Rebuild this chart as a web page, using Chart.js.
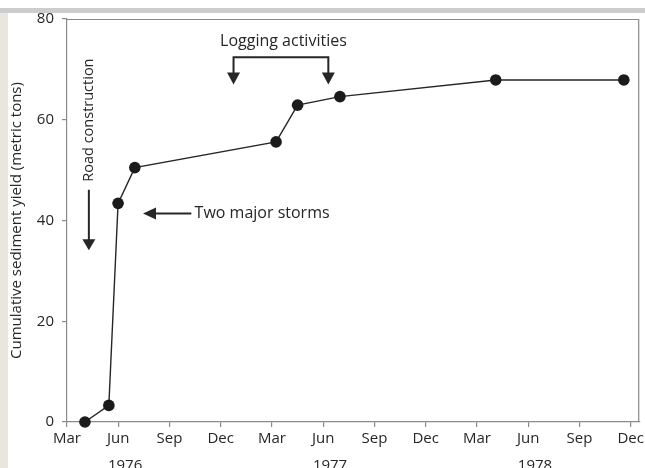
<!DOCTYPE html>
<html>
<head>
<meta charset="utf-8">
<title>Cumulative sediment yield</title>
<script src="https://cdn.jsdelivr.net/npm/chart.js@4.4.1/dist/chart.umd.min.js"></script>
<style>
  html, body { margin: 0; padding: 0; background: #fff; }
  #wrap { width: 645px; height: 468px; position: relative; }
  canvas { display: block; }
</style>
</head>
<body>
<div id="wrap"><canvas id="chart" width="645" height="468"></canvas></div>
<script>
// Sampling dates, in months elapsed since 1 March 1976
const sampleMonths = [1.05, 2.45, 2.99, 3.97, 12.24, 13.5, 15.98, 25.1, 32.6];
// Cumulative sediment yield at each date (metric tons)
const cumulativeYield = [0, 3.3, 43.4, 50.5, 55.6, 62.9, 64.6, 67.9, 67.9];

// Quarterly axis ticks (months since Mar 1976) and their labels
const monthTicks = [0, 3, 6, 9, 12, 15, 18, 21, 24, 27, 30, 33];
const monthLabels = ['Mar', 'Jun', 'Sep', 'Dec', 'Mar', 'Jun', 'Sep', 'Dec', 'Mar', 'Jun', 'Sep', 'Dec'];
const yearLabels = ['1976', '1977', '1978'];
const yearPositions = [3.4, 15.4, 27.4];
const yTicks = [0, 20, 40, 60, 80];

const INK = '#262626';
const AXIS = '#8a8a8a';
const FONT = "'Open Sans', 'DejaVu Sans', sans-serif";

// Annotation anchors, expressed in axis units (months, metric tons)
const roadNote = { x: 1.28, textEnd: 47.7, arrowFrom: 46.1, arrowTo: 34.1, text: 'Road construction' };
const stormNote = { y: 41.4, arrowTip: 4.45, arrowTail: 7.28, textStart: 7.47, text: 'Two major storms' };
const loggingNote = { from: 9.75, to: 15.3, bar: 72.4, tip: 67.0, textX: 12.67, textY: 74.6, text: 'Logging activities' };

function arrowHead(ctx, x, y, dir, len, half) {
  ctx.beginPath();
  if (dir === 'down') {
    ctx.moveTo(x, y); ctx.lineTo(x - half, y - len); ctx.lineTo(x + half, y - len);
  } else if (dir === 'left') {
    ctx.moveTo(x, y); ctx.lineTo(x + len, y - half); ctx.lineTo(x + len, y + half);
  }
  ctx.closePath();
  ctx.fill();
}

const pagePlugin = {
  id: 'page',
  beforeDraw(chart) {
    const ctx = chart.ctx;
    ctx.save();
    ctx.fillStyle = '#ffffff';
    ctx.fillRect(0, 0, chart.width, chart.height);
    ctx.fillStyle = '#cdcdcd';
    ctx.fillRect(0, 8, chart.width, 5);
    ctx.fillStyle = '#e8e6dd';
    ctx.fillRect(0, 13, 8, chart.height - 13);
    ctx.restore();
  },
  beforeDatasetsDraw(chart) {
    const { ctx, chartArea: a } = chart;
    ctx.save();
    ctx.strokeStyle = AXIS;
    ctx.lineWidth = 1.2;
    ctx.beginPath();
    ctx.moveTo(a.left, a.top + 0.5);
    ctx.lineTo(a.right - 0.5, a.top + 0.5);
    ctx.lineTo(a.right - 0.5, a.bottom);
    ctx.stroke();
    ctx.restore();
  },
  afterDraw(chart) {
    const { ctx, scales: { x, y } } = chart;
    ctx.save();
    ctx.fillStyle = INK;
    ctx.strokeStyle = INK;
    ctx.lineWidth = 2;

    // Year labels beneath the month ticks
    ctx.textAlign = 'center';
    ctx.textBaseline = 'top';
    ctx.font = "15px " + FONT;
    yearLabels.forEach((lab, i) => {
      ctx.fillText(lab, x.getPixelForValue(yearPositions[i]), 458);
    });

    // Road construction: vertical label and downward arrow
    ctx.font = "14.5px " + FONT;
    const rx = x.getPixelForValue(roadNote.x);
    ctx.save();
    ctx.translate(rx, y.getPixelForValue(roadNote.textEnd));
    ctx.rotate(-Math.PI / 2);
    ctx.textAlign = 'left';
    ctx.textBaseline = 'middle';
    ctx.fillText(roadNote.text, 0, 0);
    ctx.restore();
    const r1 = y.getPixelForValue(roadNote.arrowFrom);
    const r2 = y.getPixelForValue(roadNote.arrowTo);
    ctx.beginPath();
    ctx.moveTo(rx, r1);
    ctx.lineTo(rx, r2 - 8);
    ctx.stroke();
    arrowHead(ctx, rx, r2, 'down', 11, 6.5);

    // Two major storms: leftward arrow and label
    ctx.font = "16px " + FONT;
    const sy = y.getPixelForValue(stormNote.y);
    const sTip = x.getPixelForValue(stormNote.arrowTip);
    const sTail = x.getPixelForValue(stormNote.arrowTail);
    ctx.beginPath();
    ctx.moveTo(sTail, sy);
    ctx.lineTo(sTip + 8, sy);
    ctx.stroke();
    arrowHead(ctx, sTip, sy, 'left', 13, 6);
    ctx.textAlign = 'left';
    ctx.textBaseline = 'middle';
    ctx.fillText(stormNote.text, x.getPixelForValue(stormNote.textStart), sy);

    // Logging activities: bracket with two downward arrows
    const l1 = x.getPixelForValue(loggingNote.from);
    const l2 = x.getPixelForValue(loggingNote.to);
    const lb = y.getPixelForValue(loggingNote.bar);
    const lt = y.getPixelForValue(loggingNote.tip);
    ctx.beginPath();
    ctx.moveTo(l1, lt - 8);
    ctx.lineTo(l1, lb);
    ctx.lineTo(l2, lb);
    ctx.lineTo(l2, lt - 8);
    ctx.stroke();
    arrowHead(ctx, l1, lt, 'down', 12, 6.5);
    arrowHead(ctx, l2, lt, 'down', 12, 6.5);
    ctx.textAlign = 'center';
    ctx.textBaseline = 'alphabetic';
    ctx.fillText(loggingNote.text, x.getPixelForValue(loggingNote.textX), y.getPixelForValue(loggingNote.textY));
    ctx.restore();
  }
};

const points = sampleMonths.map((m, i) => ({ x: m, y: cumulativeYield[i] }));

new Chart(document.getElementById('chart'), {
  type: 'line',
  data: {
    datasets: [{
      data: points,
      borderColor: INK,
      borderWidth: 1.4,
      backgroundColor: '#1b1b1b',
      pointBackgroundColor: '#1b1b1b',
      pointBorderColor: '#1b1b1b',
      pointBorderWidth: 0,
      pointRadius: 5.8,
      tension: 0,
      clip: false
    }]
  },
  options: {
    responsive: false,
    animation: false,
    devicePixelRatio: 1,
    layout: { padding: { top: 19, right: 3, left: 0, bottom: 0 } },
    plugins: { legend: { display: false }, tooltip: { enabled: false } },
    scales: {
      x: {
        type: 'linear',
        min: 0,
        max: 33.5,
        afterBuildTicks: s => { s.ticks = monthTicks.map(v => ({ value: v })); },
        afterFit: s => { s.height = 46; s.paddingLeft = 0; s.paddingRight = 0; },
        ticks: {
          autoSkip: false,
          maxRotation: 0,
          padding: 3,
          color: INK,
          font: { family: FONT, size: 15 },
          callback: v => monthLabels[monthTicks.indexOf(v)]
        },
        grid: { drawOnChartArea: false, drawTicks: true, tickLength: 5, color: AXIS, lineWidth: 1.2 },
        border: { color: AXIS, width: 1.2 }
      },
      y: {
        min: 0,
        max: 80,
        afterBuildTicks: s => { s.ticks = yTicks.map(v => ({ value: v })); },
        afterFit: s => { s.width = 67; s.paddingTop = 0; s.paddingBottom = 0; },
        ticks: {
          padding: 8,
          color: INK,
          font: { family: FONT, size: 15 }
        },
        grid: { drawOnChartArea: false, drawTicks: true, tickLength: 5, color: AXIS, lineWidth: 1.2 },
        border: { color: AXIS, width: 1.2 },
        title: {
          display: true,
          text: 'Cumulative sediment yield (metric tons)',
          color: INK,
          font: { family: FONT, size: 15 },
          padding: { top: 8, bottom: 0 }
        }
      }
    }
  },
  plugins: [pagePlugin]
});
</script>
</body>
</html>
